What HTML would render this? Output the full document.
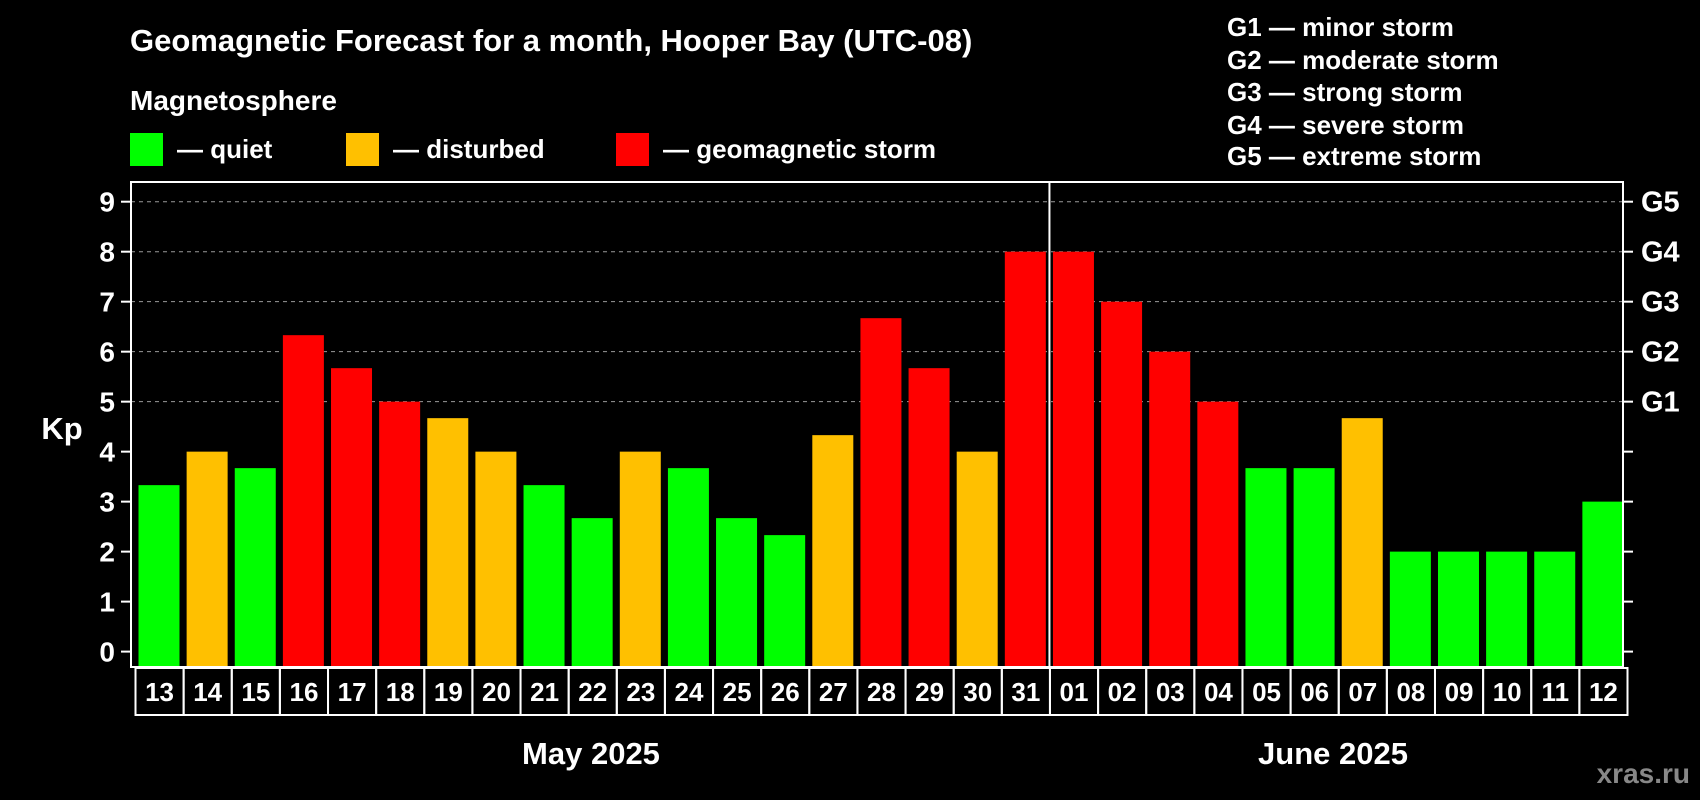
<!DOCTYPE html>
<html><head><meta charset="utf-8"><style>
html,body{margin:0;padding:0;background:#000;}
svg{display:block;font-family:"Liberation Sans",Arial,sans-serif;font-weight:bold;}
</style></head><body>
<svg id="chart" width="1700" height="800" viewBox="0 0 1700 800">
<rect width="1700" height="800" fill="#000"/>
<text x="130" y="51" fill="#fff" font-size="31">Geomagnetic Forecast for a month, Hooper Bay (UTC-08)</text>
<text x="130" y="110" fill="#fff" font-size="28">Magnetosphere</text>
<g><rect x="130" y="133" width="33" height="33" fill="#00ff00"/><text x="177" y="158" fill="#fff" font-size="26">— quiet</text></g>
<g><rect x="346" y="133" width="33" height="33" fill="#ffc000"/><text x="393" y="158" fill="#fff" font-size="26">— disturbed</text></g>
<g><rect x="616" y="133" width="33" height="33" fill="#ff0000"/><text x="663" y="158" fill="#fff" font-size="26">— geomagnetic storm</text></g>
<g fill="#fff" font-size="26">
<text x="1227" y="36">G1 — minor storm</text>
<text x="1227" y="69">G2 — moderate storm</text>
<text x="1227" y="101">G3 — strong storm</text>
<text x="1227" y="134">G4 — severe storm</text>
<text x="1227" y="165">G5 — extreme storm</text>
</g>
<text x="62" y="439" fill="#fff" font-size="31" text-anchor="middle">Kp</text>
<g id="plot"></g>
<text x="591" y="764" fill="#fff" font-size="31" text-anchor="middle">May 2025</text>
<text x="1333" y="764" fill="#fff" font-size="31" text-anchor="middle">June 2025</text>
<text x="1690" y="783" fill="#888" font-size="28" text-anchor="end">xras.ru</text>
</svg>
<script>
const days = ["13","14","15","16","17","18","19","20","21","22","23","24","25","26","27","28","29","30","31","01","02","03","04","05","06","07","08","09","10","11","12"];
const kpValues = [3.33,4,3.67,6.33,5.67,5,4.67,4,3.33,2.67,4,3.67,2.67,2.33,4.33,6.67,5.67,4,8,8,7,6,5,3.67,3.67,4.67,2,2,2,2,3];
const yTicks = [0,1,2,3,4,5,6,7,8,9];
const gLabels = ["","","","","","G1","G2","G3","G4","G5"];
const monthSplitIndex = 19;

const NS="http://www.w3.org/2000/svg";
const plot=document.getElementById('plot');
const L=131,R=1623,T=182,B=667;
const y0=651.6,unit=(651.6-201.7)/9;
const band=(R-L)/days.length;
const yS=v=>y0-v*unit;
const xS=i=>L+i*band;
function mk(tag,attrs){const e=document.createElementNS(NS,tag);for(const k in attrs)e.setAttribute(k,attrs[k]);plot.appendChild(e);return e;}
function color(v){return v>=5?"#ff0000":(v>=4?"#ffc000":"#00ff00");}

yTicks.forEach((t,i)=>{
  const y=yS(t);
  if(t>=5){const g=mk('line',{x1:L,x2:R,y1:y,y2:y,stroke:'#999','stroke-dasharray':'4,4','stroke-width':1});
    
    }
  const tl=mk('line',{x1:L-10,x2:L,y1:y,y2:y,stroke:'#fff','stroke-width':2});
  
  
  const tr=mk('line',{x1:R,x2:R+10,y1:y,y2:y,stroke:'#fff','stroke-width':2});
  
  
  const lb=mk('text',{x:115,y:y+10,fill:'#fff','font-size':28,'text-anchor':'end'});
  lb.textContent=t;
  
  
  if(gLabels[i]){const g=mk('text',{x:1641,y:y+10,fill:'#fff','font-size':29});
    g.textContent=gLabels[i];
    
    }
});

kpValues.forEach((v,i)=>{
  const x=xS(i)+7.5;
  const b=mk('rect',{x:x,y:yS(v),width:41,height:B-yS(v),fill:color(v)});
  
  
  const bx=mk('rect',{x:xS(i)+4.5,y:B+1,width:band,height:47,fill:'none',stroke:'#fff','stroke-width':2});
  
  
  const t=mk('text',{x:xS(i)+4.5+band/2,y:B+34,fill:'#fff','font-size':26,'text-anchor':'middle'});
  t.textContent=days[i];
  
  
});

const fr=mk('rect',{x:L,y:T,width:R-L,height:B-T,fill:'none',stroke:'#fff','stroke-width':2});


const sx=xS(monthSplitIndex)+4;
const dv=mk('line',{x1:sx,x2:sx,y1:T,y2:B,stroke:'#fff','stroke-width':2});


</script>
</body></html>
